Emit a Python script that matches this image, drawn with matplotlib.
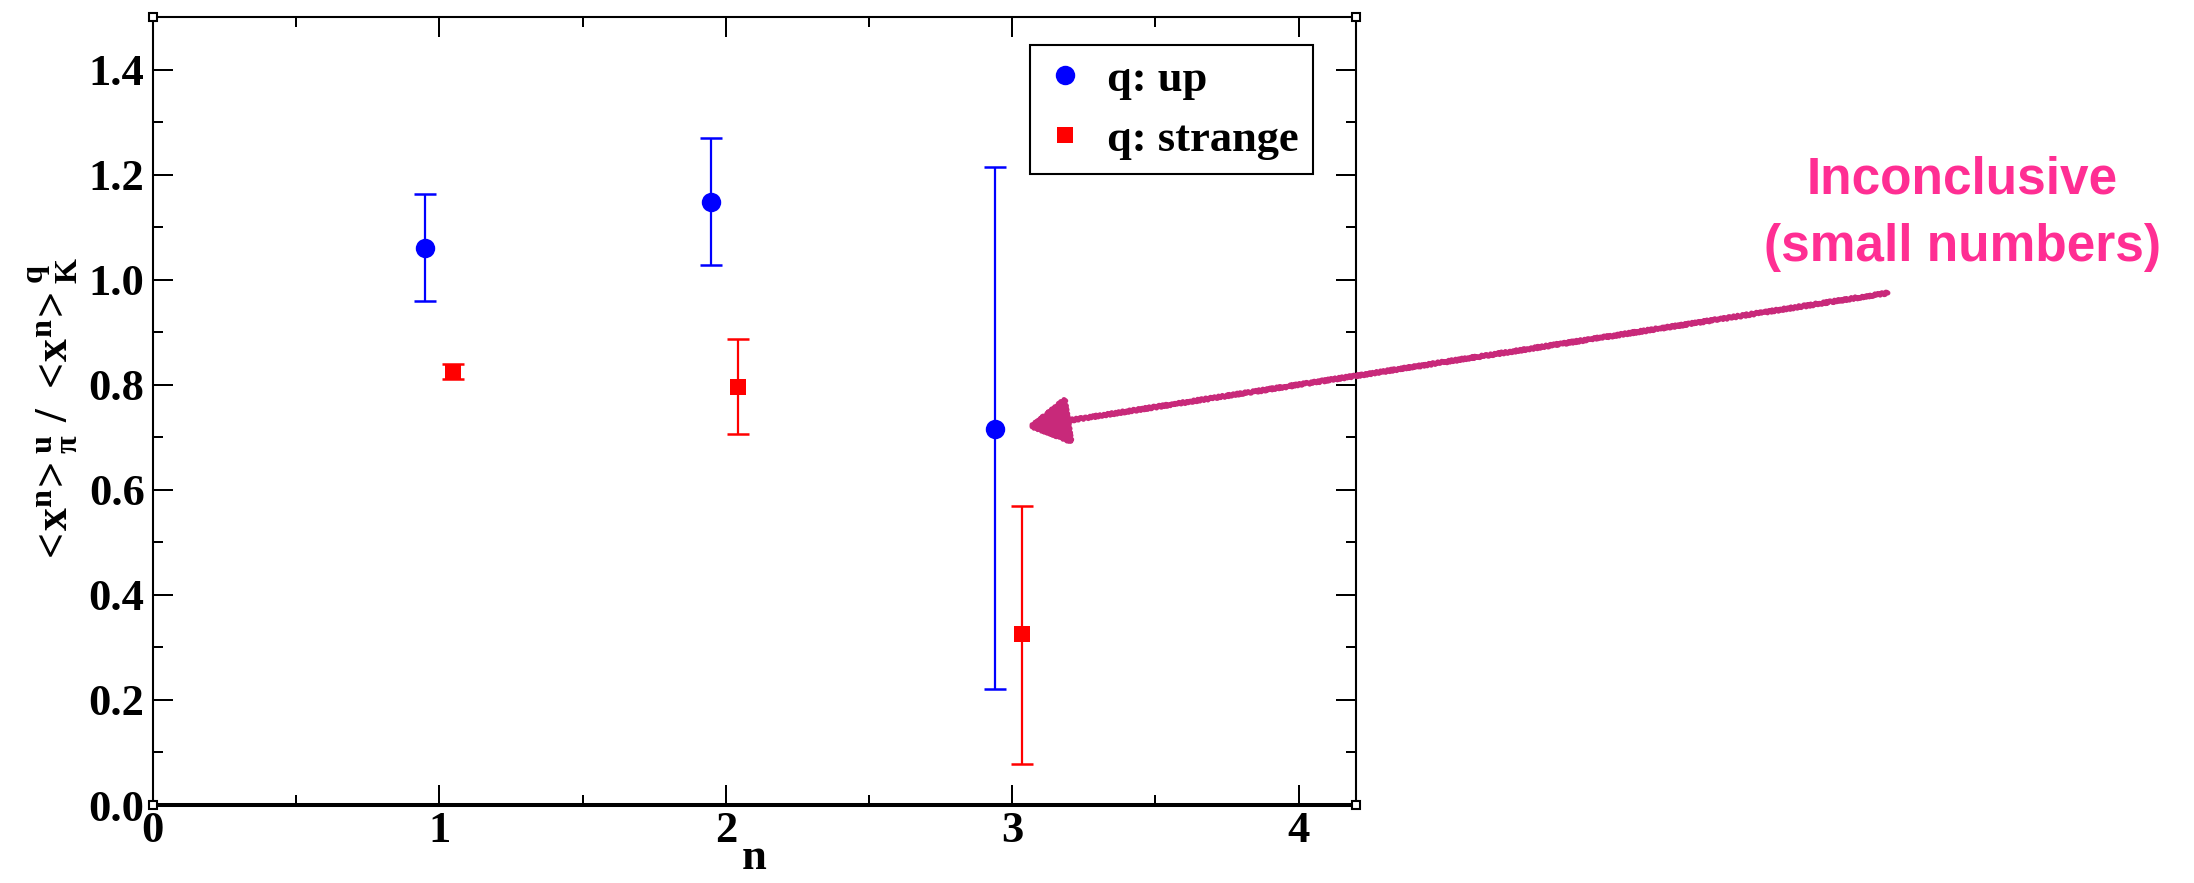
import numpy as np
import matplotlib
matplotlib.use("Agg")
import matplotlib.pyplot as plt
from matplotlib.patches import FancyArrowPatch
from matplotlib.ticker import MultipleLocator, FormatStrFormatter

# ratio <x^n>_pi^u / <x^n>_K^q for the first three moments
n_up = [0.95, 1.95, 2.94]
up_val = [1.060, 1.148, 0.715]
up_hi = [1.163, 1.269, 1.215]
up_lo = [0.959, 1.028, 0.221]

n_str = [1.047, 2.044, 3.036]
str_val = [0.825, 0.796, 0.326]
str_hi = [0.839, 0.888, 0.569]
str_lo = [0.811, 0.706, 0.079]

plt.rcParams['font.family'] = 'Liberation Serif'
plt.rcParams['font.weight'] = 'bold'
plt.rcParams['axes.labelweight'] = 'bold'
plt.rcParams['mathtext.fontset'] = 'custom'
plt.rcParams['mathtext.rm'] = 'Liberation Serif:bold'
plt.rcParams['mathtext.it'] = 'Liberation Serif:bold'
plt.rcParams['mathtext.bf'] = 'Liberation Serif:bold'
plt.rcParams['mathtext.default'] = 'rm'

fig = plt.figure(figsize=(21.94, 8.83), dpi=100)
ax = fig.add_axes([0.0697, 0.0883, 0.5483, 0.8924])

def err(val, lo, hi):
    val, lo, hi = np.array(val), np.array(lo), np.array(hi)
    return [val - lo, hi - val]

ax.errorbar(n_up, up_val, yerr=err(up_val, up_lo, up_hi), fmt='none',
            ecolor='blue', elinewidth=1.6, capsize=8, capthick=1.8)
ax.errorbar(n_str, str_val, yerr=err(str_val, str_lo, str_hi), fmt='none',
            ecolor='red', elinewidth=1.6, capsize=8, capthick=1.8)
ax.plot(n_up, up_val, 'o', color='blue', ms=14, mew=0, label='q: up')
ax.plot(n_str, str_val, 's', color='red', ms=12, mew=0, label='q: strange')

ax.set_xlim(0, 4.2)
ax.set_ylim(0, 1.5)
ax.xaxis.set_major_locator(MultipleLocator(1))
ax.xaxis.set_minor_locator(MultipleLocator(0.5))
ax.yaxis.set_major_locator(MultipleLocator(0.2))
ax.yaxis.set_minor_locator(MultipleLocator(0.1))
ax.yaxis.set_major_formatter(FormatStrFormatter('%.1f'))
ax.tick_params(which='both', direction='in', top=True, right=True,
               width=1.44, labelsize=32)
ax.tick_params(which='major', length=14.4)
ax.tick_params(which='minor', length=7.2)
ax.tick_params(axis='x', pad=4)
ax.tick_params(axis='y', pad=6)
for side in ['left', 'right', 'top']:
    ax.spines[side].set_linewidth(1.5)
ax.spines['bottom'].set_linewidth(2.9)

# little corner boxes of the frame
for cx, cy in [(0, 0), (1, 0), (0, 1), (1, 1)]:
    ax.plot(cx, cy, 's', ms=6, mfc='white', mec='black', mew=1.5,
            transform=ax.transAxes, clip_on=False, zorder=5)

ax.set_xlabel('n', fontsize=32, labelpad=-9)
ax.set_ylabel(r'$<\!x^n\!>^u_\pi\ /\ <\!x^n\!>^q_K$', fontsize=33, labelpad=6)

leg = ax.legend(loc='upper right', bbox_to_anchor=(0.964, 0.964), borderaxespad=0,
                fontsize=32, fancybox=False, framealpha=1, edgecolor='black',
                borderpad=0.32, handlelength=0.9, handletextpad=0.5,
                labelspacing=0.45, numpoints=1)
leg.get_frame().set_linewidth(1.5)

# hand-drawn pointer to the n=3 point
arrow = FancyArrowPatch(posA=(0.8605, 0.6682), posB=(0.4681, 0.5164),
                        transform=fig.transFigure,
                        arrowstyle='-|>,head_length=26,head_width=15',
                        mutation_scale=1, lw=3.6, color='#C8297A',
                        shrinkA=0, shrinkB=0)
arrow.set_sketch_params(scale=1.2, length=4, randomness=2)
fig.add_artist(arrow)

fig.text(0.8943, 1 - 194 / 883, 'Inconclusive', ha='center', va='baseline',
         fontsize=37, color='#FF2E93', family='Liberation Sans', weight='bold')
fig.text(0.8943, 1 - 261 / 883, '(small numbers)', ha='center', va='baseline',
         fontsize=37, color='#FF2E93', family='Liberation Sans', weight='bold')

fig.savefig('out.png', dpi=100)
